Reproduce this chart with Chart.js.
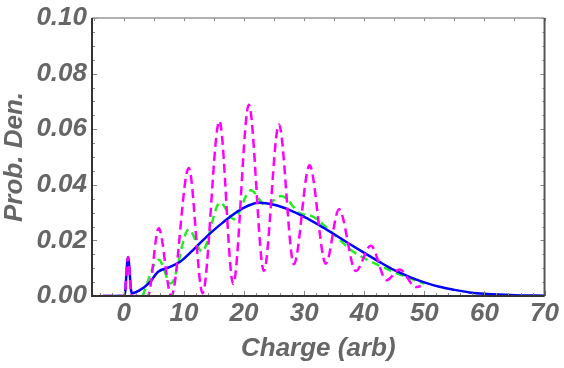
<!DOCTYPE html>
<html>
<head>
<meta charset="utf-8">
<script src="https://cdn.jsdelivr.net/npm/chart.js@4/dist/chart.umd.min.js"></script>
<style>
  html, body { margin: 0; padding: 0; background: #fff; }
  canvas { display: block; }
</style>
</head>
<body>
<canvas id="chart" width="564" height="368"></canvas>
<script>
// values
const magentaX = [-3.5, 0.1, 0.7, 1.3, 4.0, 5.8, 7.9, 10.8, 13.1, 15.9, 18.2, 20.8, 23.3, 25.8, 28.3, 30.9, 33.6, 35.8, 38.6, 41.1, 43.7, 45.9, 48.6, 49.4]
const magentaY = [0, 0, 0.014, 0, 0, 0.0244, 0, 0.046, 0.001, 0.063, 0.0043, 0.0688, 0.009, 0.0617, 0.0114, 0.047, 0.0116, 0.0312, 0.009, 0.0181, 0.0057, 0.0095, 0.0032, 0.0036]

const greenX = [3.1, 5.8, 7.8, 10.8, 13.0, 16.0, 18.3, 21.1, 23.6, 26.2, 29.4, 31.2, 34.6, 37.9, 40.7, 43.4, 46.2, 50.0]
const greenY = [0, 0.013, 0.0045, 0.024, 0.016, 0.0336, 0.0276, 0.038, 0.0327, 0.036, 0.0296, 0.0288, 0.0229, 0.0164, 0.0128, 0.0101, 0.0075, 0.0045]

const blueX = [-3.5, 0.1, 0.7, 1.3, 2.6, 4.3, 5.7, 7.6, 9.3, 11.5, 14.0, 16.4, 19.7, 22.5, 25.0, 27.5, 30.0, 32.5, 35.0, 37.5, 40.0, 42.5, 45.0, 47.5, 50.0, 52.5, 55.0, 57.5, 60.0, 65.0, 70.0]
const blueY = [0, 0, 0.014, 0.001, 0.002, 0.0049, 0.0087, 0.0104, 0.0122, 0.0165, 0.0218, 0.0263, 0.0314, 0.0335, 0.0328, 0.031, 0.0285, 0.0255, 0.0222, 0.0188, 0.0155, 0.0123, 0.0093, 0.0069, 0.0049, 0.0033, 0.0022, 0.0013, 0.0008, 0.0003, 0.0001]

const xTicks = [0, 10, 20, 30, 40, 50, 60, 70]
const yTicks = [0, 0.02, 0.04, 0.06, 0.08, 0.10]

const labelFont = { family: 'Liberation Sans, Arial, sans-serif', size: 26, weight: 'bold', style: 'italic', lineHeight: 1 }
const labelColor = '#666'

const toPoints = (xs, ys) => xs.map((x, i) => ({ x: x, y: ys[i] }))

// frame with inward tick marks on all four sides
const framePlugin = {
  id: 'frame',
  afterDatasetsDraw(chart) {
    const ctx = chart.ctx
    const a = chart.chartArea
    const xs = chart.scales.x
    const ys = chart.scales.y
    ctx.save()
    ctx.strokeStyle = '#888'
    ctx.lineWidth = 1
    ctx.beginPath()
    for (let v = -4; v <= 70; v += 2) {
      const px = Math.round(xs.getPixelForValue(v)) + 0.5
      const len = v % 10 === 0 ? 5 : 3
      ctx.moveTo(px, a.bottom); ctx.lineTo(px, a.bottom - len)
    }
    for (let v = -5; v <= 70; v += 5) {
      const px = Math.round(xs.getPixelForValue(v)) + 0.5
      ctx.moveTo(px, a.top); ctx.lineTo(px, a.top + 3)
    }
    for (let i = 0; i <= 20; i++) {
      const v = i * 0.005
      const py = Math.round(ys.getPixelForValue(v)) + 0.5
      const len = i % 4 === 0 ? 5 : 3
      ctx.moveTo(a.left, py); ctx.lineTo(a.left + len, py)
      ctx.moveTo(a.right, py); ctx.lineTo(a.right - len + 1, py)
    }
    ctx.stroke()

    ctx.lineWidth = 1.5
    ctx.strokeStyle = '#999'
    ctx.beginPath()
    ctx.moveTo(a.left, a.top); ctx.lineTo(a.right, a.top)
    ctx.stroke()
    ctx.lineWidth = 2
    ctx.strokeStyle = '#555'
    ctx.beginPath()
    ctx.moveTo(a.right, a.top); ctx.lineTo(a.right, a.bottom)
    ctx.stroke()
    ctx.strokeStyle = '#333'
    ctx.beginPath()
    ctx.moveTo(a.left, a.top); ctx.lineTo(a.left, a.bottom); ctx.lineTo(a.right, a.bottom)
    ctx.stroke()
    ctx.restore()
  }
}

const lineStyle = {
  pointRadius: 0,
  borderWidth: 2.5,
  fill: false,
  cubicInterpolationMode: 'monotone'
}

new Chart(document.getElementById('chart'), {
  type: 'line',
  data: {
    datasets: [
      Object.assign({ label: 'magenta', data: toPoints(magentaX, magentaY), borderColor: '#ff00ff', borderDash: [9, 5] }, lineStyle),
      Object.assign({ label: 'blue', data: toPoints(blueX, blueY), borderColor: '#0000ff' }, lineStyle),
      Object.assign({ label: 'green', data: toPoints(greenX, greenY), borderColor: '#22ee22', borderDash: [8, 5] }, lineStyle)
    ]
  },
  options: {
    responsive: false,
    animation: false,
    layout: { padding: { top: 15, right: 16, left: 0, bottom: 0 } },
    plugins: { legend: { display: false }, tooltip: { enabled: false } },
    scales: {
      x: {
        type: 'linear',
        min: -5.3,
        max: 70,
        grid: { display: false, drawTicks: false },
        border: { display: false },
        afterBuildTicks: s => { s.ticks = xTicks.map(v => ({ value: v })) },
        afterFit: s => { s.height = 72 },
        ticks: { font: labelFont, color: labelColor, padding: 5, maxRotation: 0, callback: v => String(v) },
        title: { display: true, text: 'Charge (arb)', font: labelFont, color: labelColor, padding: { top: 0, bottom: 6 } }
      },
      y: {
        min: 0,
        max: 0.10,
        grid: { display: false, drawTicks: false },
        border: { display: false },
        afterBuildTicks: s => { s.ticks = yTicks.map(v => ({ value: v })) },
        afterFit: s => { s.width = 92 },
        ticks: { font: labelFont, color: labelColor, padding: 5, callback: v => v.toFixed(2) },
        title: { display: true, text: 'Prob. Den.', font: labelFont, color: labelColor, padding: { top: 2, bottom: 0 } }
      }
    }
  },
  plugins: [framePlugin]
})
</script>
</body>
</html>
